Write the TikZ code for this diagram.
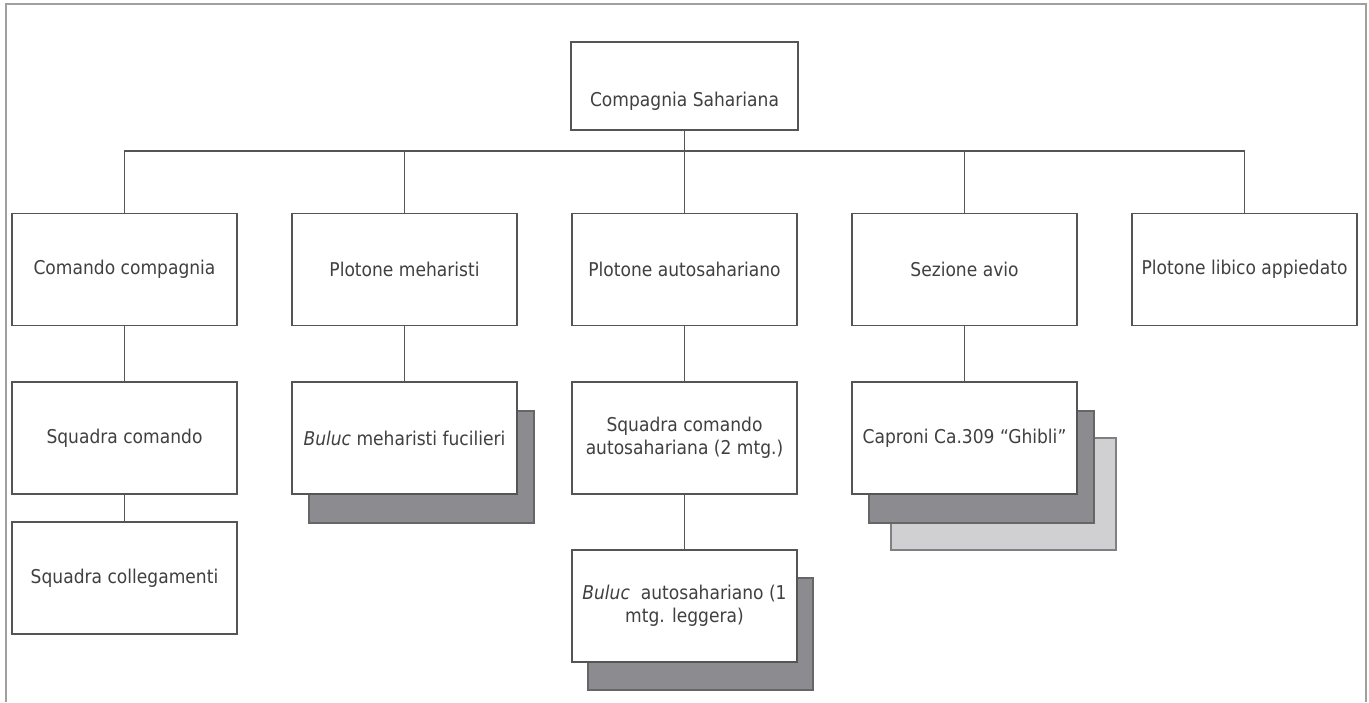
\documentclass[tikz,border=0pt]{standalone}
\usepackage{fontspec}
\setmainfont[FakeStretch=0.9]{DejaVu Sans}
\definecolor{linegray}{HTML}{555555}
\definecolor{textgray}{HTML}{404040}
\definecolor{framegray}{HTML}{A0A0A0}
\definecolor{shdark}{HTML}{8C8C90}
\definecolor{shdarkline}{HTML}{666668}
\definecolor{shlight}{HTML}{D0D0D3}
\definecolor{shlightline}{HTML}{808082}
\tikzset{
  orgbox/.style={draw=linegray, line width=1.8pt, fill=white, minimum width=225pt, minimum height=112pt, inner sep=0pt, outer sep=0pt, text=textgray, align=center, font=\fontsize{19}{23}\selectfont},
  shadowdark/.style={draw=shdarkline, line width=1.5pt, fill=shdark, minimum width=225pt, minimum height=112pt, inner sep=0pt, outer sep=0pt},
  shadowlight/.style={draw=shlightline, line width=1.5pt, fill=shlight, minimum width=225pt, minimum height=112pt, inner sep=0pt, outer sep=0pt},
  conn/.style={draw=linegray, line width=1.8pt},
  framebox/.style={draw=framegray, line width=1.5pt},
  lbl/.style={text=textgray, font=\fontsize{19}{23}\selectfont, inner sep=0pt}
}
\begin{document}
\begin{tikzpicture}[x=1pt,y=-1pt]
\useasboundingbox (0,0) rectangle (1369,702);
\draw[framebox] (6,702) -- (6,4) -- (1366,4) -- (1366,702);

% top
\node[orgbox, minimum width=227pt, minimum height=88pt] (top) at (684.5,86) {};
\node[lbl] (toplab) at (684.5,101) {Compagnia Sahariana};

% level 2
\node[orgbox] (cc) at (124.5,269.5) {Comando compagnia};
\node[orgbox] (pm) at (404.5,269.5) {Plotone meharisti};
\node[orgbox] (pa) at (684.5,269.5) {Plotone autosahariano};
\node[orgbox] (sa) at (964.5,269.5) {Sezione avio};
\node[orgbox] (pl) at (1244.5,269.5) {Plotone libico appiedato};

% level 3
\node[orgbox] (sc) at (124.5,438) {Squadra comando};
\node[orgbox] (scol) at (124.5,578) {Squadra collegamenti};

\node[shadowdark] (bmsh) at (421.5,467) {};
\node[orgbox] (bm) at (404.5,438) {\textit{Buluc} meharisti fucilieri};

\node[orgbox] (sca) at (684.5,438) {Squadra comando\\autosahariana (2 mtg.)};

\node[shadowdark] (bash) at (700.5,634) {};
\node[orgbox] (ba) at (684.5,606) {\textit{Buluc}\ \ autosahariano (1\\mtg. leggera)};

\node[shadowlight] (cpsh2) at (1003.5,494) {};
\node[shadowdark] (cpsh1) at (981.5,467) {};
\node[orgbox] (cp) at (964.5,438) {Caproni Ca.309 ``Ghibli''};

% connectors
\coordinate (bus) at (684.5,151);
\draw[conn] (top.south) -- (bus);
\draw[conn] (cc.north) |- (bus) -| (pl.north);
\draw[conn] (pm.north) -- (pm.north |- bus);
\draw[conn] (pa.north) -- (bus);
\draw[conn] (sa.north) -- (sa.north |- bus);

\draw[conn] (cc.south) -- (sc.north);
\draw[conn] (sc.south) -- (scol.north);
\draw[conn] (pm.south) -- (bm.north);
\draw[conn] (pa.south) -- (sca.north);
\draw[conn] (sca.south) -- (ba.north);
\draw[conn] (sa.south) -- (cp.north);
\end{tikzpicture}
\end{document}
